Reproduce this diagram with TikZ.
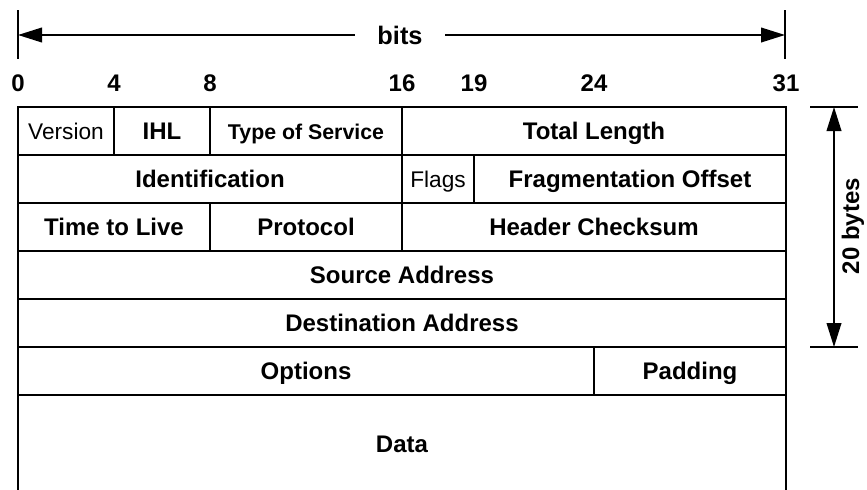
\documentclass[tikz,border=0pt]{standalone}
\usepackage{fontspec}
\setmainfont{Liberation Sans}
\usetikzlibrary{arrows.meta,positioning}

\newcommand{\lblsize}{\fontsize{18}{21}\selectfont}
\newcommand{\smallsize}{\fontsize{17}{20}\selectfont}

\begin{document}
\begin{tikzpicture}[x=0.75pt,y=-0.75pt,
  field/.style={draw, line width=2.1pt, minimum width=#1*18pt, minimum height=36pt, inner sep=0pt, outer sep=0pt, text height=12.5pt, text depth=0pt, font=\lblsize\bfseries},
  thin field/.style={field=#1, font=\smallsize},
  dim/.style={line width=1.3pt},
  dimarrow/.style={dim, -{Triangle[length=18pt,width=11pt]}}]
  \tikzstyle{every node}=[font=\lblsize\bfseries]

  \useasboundingbox (0,0) rectangle (867,489);

  % header, 32 bits per row
  \node[thin field=4, anchor=north west] (ver) at (18,107) {Version};
  \node[field=4, right=0pt of ver] (ihl) {IHL};
  \node[field=8, right=0pt of ihl, font=\fontsize{16}{19}\selectfont\bfseries] (tos) {Type of Service};
  \node[field=16, right=0pt of tos] (len) {Total Length};

  \node[field=16, below=0pt of ver.south west, anchor=north west] (ident) {Identification};
  \node[thin field=3, right=0pt of ident] (flags) {Flags};
  \node[field=13, right=0pt of flags] (frag) {Fragmentation Offset};

  \node[field=8, below=0pt of ident.south west, anchor=north west] (ttl) {Time to Live};
  \node[field=8, right=0pt of ttl] (proto) {Protocol};
  \node[field=16, right=0pt of proto] (csum) {Header Checksum};

  \node[field=32, below=0pt of ttl.south west, anchor=north west] (src) {Source Address};
  \node[field=32, below=0pt of src.south west, anchor=north west] (dst) {Destination Address};

  \node[field=24, below=0pt of dst.south west, anchor=north west] (opt) {Options};
  \node[field=8, right=0pt of opt] (pad) {Padding};

  \node[field=32, minimum height=73pt, below=0pt of opt.south west, anchor=north west] (data) {Data};

  % bit numbers
  \foreach \b/\p in {0/0, 4/4, 8/8, 16/16, 19/19, 24/24, 31/32}
    \node (bit\b) at (18+24*\p,83) {\b};

  % bits arrow
  \coordinate (lt) at (18,10);
  \coordinate (lb) at (18,59);
  \coordinate (rt) at (785,10);
  \coordinate (rb) at (785,59);
  \draw[dim] (lt) -- (lb);
  \draw[dim] (rt) -- (rb);
  \node[inner xsep=17pt, font=\fontsize{19}{22}\selectfont\bfseries] (bits) at (400,35) {bits};
  \draw[dimarrow] (bits.west) -- (bits.west -| lt);
  \draw[dimarrow] (bits.east) -- (bits.east -| rt);

  % 20 bytes
  \coordinate (tl) at (810,107);
  \coordinate (tr) at (858,107);
  \coordinate (bl) at (810,347);
  \coordinate (br) at (858,347);
  \draw[dim] (tl) -- (tr);
  \draw[dim] (bl) -- (br);
  \node[rotate=90] (bytes) at (853,226) {20 bytes};
  \draw[dim, {Triangle[length=18pt,width=11pt]}-{Triangle[length=18pt,width=11pt]}] (834,107) -- (834,347);

\end{tikzpicture}
\end{document}
